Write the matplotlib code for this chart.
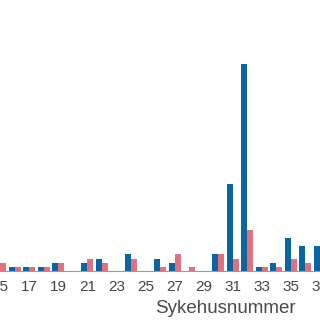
import matplotlib
matplotlib.use("Agg")
import numpy as np
import matplotlib.pyplot as plt

hospitals = list(range(15, 38))
blue_values = [1, 1, 1, 1, 2, 0, 2, 3, 0, 4, 0, 3, 2, 0, 0, 4, 21, 50, 1, 2, 8, 6, 6]
pink_values = [2, 1, 1, 1, 2, 0, 3, 2, 0, 3, 0, 1, 4, 1, 0, 4, 3, 10, 1, 1, 3, 2, 2]
tick_labels = [str(n) for n in range(15, 38, 2)]

blue = "#0b66a0"
pink = "#e0717f"

plt.rcParams["font.family"] = ["Liberation Sans", "DejaVu Sans"]

fig = plt.figure(figsize=(3.2, 3.2), dpi=100)
ax = fig.add_axes([0, 1 - 271 / 320, 1, 271 / 320])

x = np.array(hospitals)
w = 0.41
ax.bar(x - w / 2, blue_values, width=w, color=blue, zorder=2)
ax.bar(x + w / 2, pink_values, width=w, color=pink, zorder=2)

ax.set_xlim(15.032, 36.845)
ax.set_ylim(0, 271 / 4.14)

ax.set_xticks(range(15, 38, 2))
ax.set_xticklabels(tick_labels)
ax.tick_params(axis="x", length=0, pad=6.5, labelsize=11, labelcolor="#444444")
ax.set_yticks([])

for side in ["top", "left", "right"]:
    ax.spines[side].set_visible(False)
ax.spines["bottom"].set_color("#9a9a9a")
ax.spines["bottom"].set_linewidth(0.8)

ax.set_xlabel("Sykehusnummer", fontsize=13.5, color="#4a4a4a")
ax.xaxis.set_label_coords(225 / 320, (271 - 300) / 271)

fig.savefig("out.png", dpi=100)
